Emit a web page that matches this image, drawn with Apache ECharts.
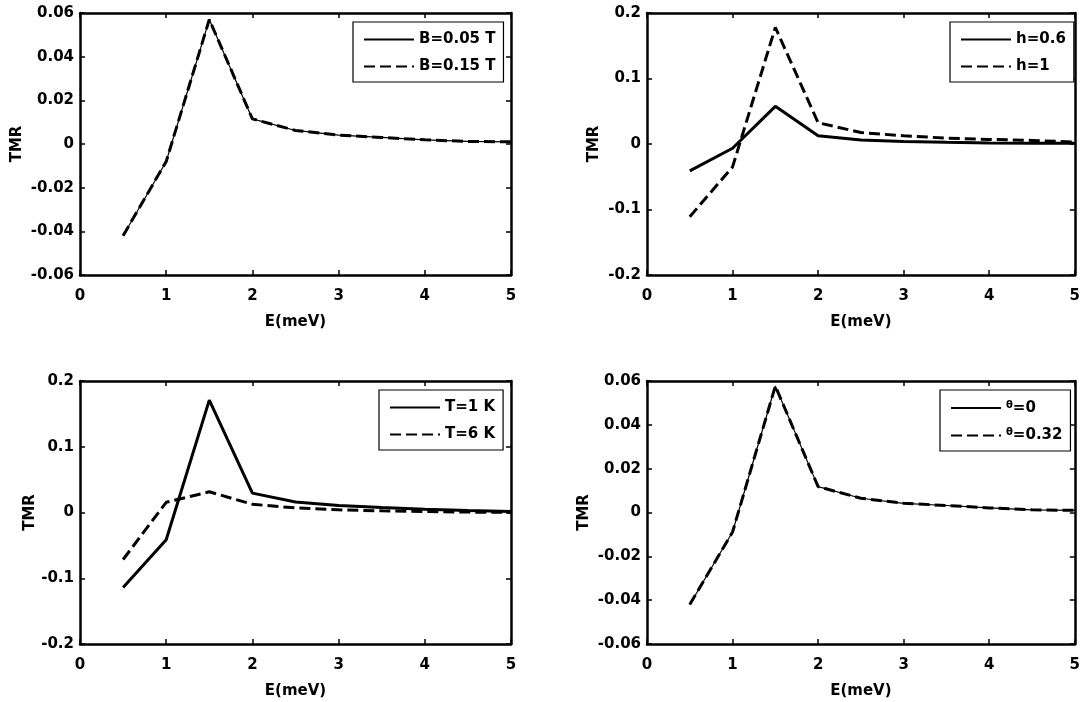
<!DOCTYPE html>
<html>
<head>
<meta charset="utf-8">
<script src="https://cdn.jsdelivr.net/npm/echarts@6/dist/echarts.min.js"></script>
<style>
html,body{margin:0;padding:0;background:#fff;}
#c{width:1083px;height:702px;}
</style>
</head>
<body>
<div id="c"></div>
<script>
// ---------- data ----------
const energy = [0.5, 1, 1.5, 2, 2.5, 3, 3.5, 4, 4.5, 5];
const xTickLabels = ['0', '1', '2', '3', '4', '5'];

// panel a : magnetic field
const tmrB005 = [-0.042, -0.008, 0.057, 0.0115, 0.0062, 0.0041, 0.003, 0.0019, 0.0012, 0.001];
const tmrB015 = [-0.042, -0.008, 0.057, 0.0115, 0.0062, 0.0041, 0.003, 0.0019, 0.0012, 0.001];
// panel b : h
const tmrH06 = [-0.041, -0.0065, 0.0575, 0.0125, 0.0062, 0.0038, 0.0025, 0.0017, 0.0012, 0.001];
const tmrH1 = [-0.111, -0.035, 0.178, 0.0325, 0.0175, 0.0125, 0.009, 0.007, 0.0055, 0.003];
// panel c : temperature
const tmrT1 = [-0.114, -0.0415, 0.171, 0.0295, 0.016, 0.0105, 0.0075, 0.005, 0.003, 0.0015];
const tmrT6 = [-0.0715, 0.0155, 0.0315, 0.0125, 0.007, 0.004, 0.0025, 0.0015, 0.0006, 0.0002];
// panel d : theta
const tmrTh0 = [-0.042, -0.0089, 0.0577, 0.0118, 0.0065, 0.0042, 0.0032, 0.0021, 0.0012, 0.001];
const tmrTh032 = [-0.042, -0.0089, 0.0577, 0.0118, 0.0065, 0.0042, 0.0032, 0.0021, 0.0012, 0.001];

const yTickLabelsSmall = ['-0.06', '-0.04', '-0.02', '0', '0.02', '0.04', '0.06'];
const yTickLabelsLarge = ['-0.2', '-0.1', '0', '0.1', '0.2'];

const names = {
  a: ['B=0.05 T', 'B=0.15 T'],
  b: ['h=0.6', 'h=1'],
  c: ['T=1 K', 'T=6 K'],
  d: ['θ=0', 'θ=0.32']
};

// ---------- layout ----------
const FONT = 'DejaVu Sans';
const panels = [
  {grid:{left:80, top:13, width:431, height:262}, yMin:-0.06, yMax:0.06, yInt:0.02, yLabels:yTickLabelsSmall, nameGap:55,
   series:[{name:names.a[0], data:tmrB005, w:1.2, dash:false},{name:names.a[1], data:tmrB015, w:3, dash:true}],
   legend:{left:353, top:22}},
  {grid:{left:647, top:13, width:432, height:262}, yMin:-0.2, yMax:0.2, yInt:0.1, yLabels:yTickLabelsLarge, nameGap:45,
   series:[{name:names.b[0], data:tmrH06, w:3, dash:false},{name:names.b[1], data:tmrH1, w:3, dash:true}],
   legend:{left:950, top:22}},
  {grid:{left:80, top:381, width:431, height:263}, yMin:-0.2, yMax:0.2, yInt:0.1, yLabels:yTickLabelsLarge, nameGap:42,
   series:[{name:names.c[0], data:tmrT1, w:3, dash:false},{name:names.c[1], data:tmrT6, w:3, dash:true}],
   legend:{left:379, top:390}},
  {grid:{left:647, top:381, width:432, height:263}, yMin:-0.06, yMax:0.06, yInt:0.02, yLabels:yTickLabelsSmall, nameGap:55,
   series:[{name:names.d[0], data:tmrTh0, w:1.2, dash:false},{name:names.d[1], data:tmrTh032, w:3, dash:true}],
   legend:{left:940, top:390}}
];

const txt = {fontFamily: FONT, fontWeight: 'bold', fontSize: 15, color: '#000'};
const axisLine = {show:true, onZero:false, lineStyle:{color:'#000', width:2.5}};
const tick = {show:true, inside:true, length:5, lineStyle:{color:'#000', width:1.5}};

const option = {
  animation:false,
  backgroundColor:'#fff',
  grid:[], xAxis:[], yAxis:[], series:[], legend:[]
};

panels.forEach((p, i) => {
  option.grid.push(Object.assign({containLabel:false}, p.grid));
  const labs = p.yLabels;
  const yFmt = v => labs[Math.round((v - p.yMin) / p.yInt)];
  const xFmt = v => xTickLabels[Math.round(v)];
  option.xAxis.push({type:'value', gridIndex:i, min:0, max:5, interval:1, position:'bottom',
    name:'E(meV)', nameLocation:'middle', nameGap:40, nameTextStyle:txt,
    axisLine:axisLine, axisTick:tick, splitLine:{show:false},
    axisLabel:Object.assign({margin:14, formatter:xFmt}, txt)});
  option.xAxis.push({type:'value', gridIndex:i, min:0, max:5, interval:1, position:'top',
    axisLine:axisLine, axisTick:tick, splitLine:{show:false}, axisLabel:{show:false}});
  option.yAxis.push({type:'value', gridIndex:i, min:p.yMin, max:p.yMax, interval:p.yInt, position:'left',
    name:'TMR', nameLocation:'middle', nameGap:p.nameGap, nameTextStyle:txt,
    axisLine:axisLine, axisTick:tick, splitLine:{show:false},
    axisLabel:Object.assign({margin:6, formatter:yFmt}, txt)});
  option.yAxis.push({type:'value', gridIndex:i, min:p.yMin, max:p.yMax, interval:p.yInt, position:'right',
    axisLine:axisLine, axisTick:tick, splitLine:{show:false}, axisLabel:{show:false}});

  p.series.forEach((s, k) => {
    option.series.push({
      type:'line', name:s.name, xAxisIndex:2*i, yAxisIndex:2*i,
      data: energy.map((e, j) => [e, s.data[j]]),
      symbol:'none', showSymbol:false, z: 2 + k,
      lineStyle:{color:'#000', width:s.w, type: s.dash ? [11, 5] : 'solid'},
      itemStyle:{color:'#000'}
    });
  });

  option.legend.push({
    data: p.series.map(s => ({name:s.name, itemStyle:{color:'rgba(0,0,0,0)', borderWidth:0, opacity:0}})),
    left:p.legend.left, top:p.legend.top, orient:'vertical',
    backgroundColor:'#fff', borderColor:'#000', borderWidth:1.2, borderRadius:0,
    padding:[10, 8, 8, 10], itemGap:12, itemWidth:50, itemHeight:14,
    selectedMode:false,
    formatter: n => n.charAt(0) === 'θ' ? '{t|θ}' + n.slice(1) : n,
    textStyle: Object.assign({rich:{t:{fontFamily:FONT, fontWeight:'bold', fontSize:10, color:'#000', padding:[0,0,6,0]}}}, txt)
  });
});

const chart = echarts.init(document.getElementById('c'), null, {renderer:'canvas'});
chart.setOption(option);
</script>
</body>
</html>
